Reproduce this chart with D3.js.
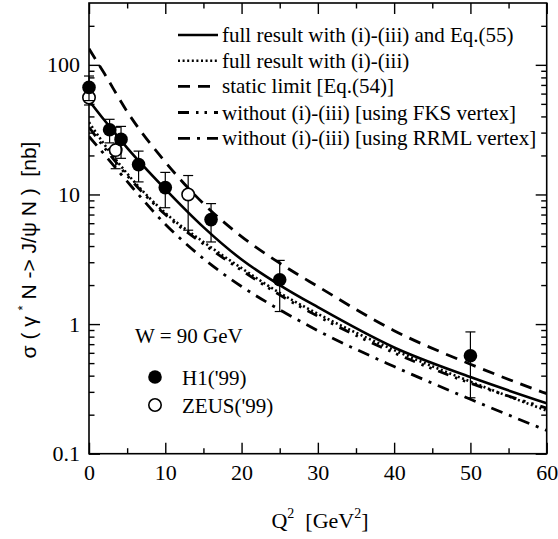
<!DOCTYPE html>
<html><head><meta charset="utf-8">
<script src="https://cdn.jsdelivr.net/npm/d3@7"></script>
<style>
body{margin:0;background:#fff}
text{font-family:"Liberation Serif","Times New Roman",serif;fill:#000}
</style>
</head><body><svg id="c" width="558" height="539"></svg>
<script>
// Theory curves: sigma(gamma* N -> J/psi N) in nb versus Q^2 in GeV^2, W = 90 GeV
const q2Grid      = [0, 2, 5, 10, 15, 20, 25, 30, 40, 50, 60];
const fullEq55    = [53, 37.5, 22.9, 11.0, 5.6, 3.15, 2.0, 1.35, 0.66, 0.39, 0.245];
const fullNoEq    = [36, 24.4, 14.5, 7.2, 4.3, 2.7, 1.74, 1.2, 0.63, 0.36, 0.215];
const staticLimit = [133, 86, 43.6, 17.8, 8.5, 4.73, 2.95, 1.95, 0.89, 0.49, 0.29];
const fksVertex   = [33, 23, 14, 7.0, 4.15, 2.6, 1.68, 1.15, 0.6, 0.35, 0.225];
const rrmlVertex  = [28, 20.4, 12.6, 5.9, 3.2, 1.95, 1.29, 0.89, 0.47, 0.263, 0.151];

// Measurements
const h1Q2    = [0, 2.7, 4.2, 6.5, 10, 16, 25, 50];
const h1Sigma = [67, 31.6, 26.6, 17, 11.3, 6.4, 2.2, 0.57];
const h1Lo    = [53, 25, 19, 12.5, 7.9, 4.3, 1.25, 0.27];
const h1Hi    = [82, 38, 33.5, 21.6, 14.8, 8.5, 3.1, 0.87];
const zeusQ2    = [0, 3.5, 13];
const zeusSigma = [56, 22, 10];
const zeusLo    = [49, 15.8, 5.3];
const zeusHi    = [63, 33, 14];

// Axis ticks
const xMajor = [0, 10, 20, 30, 40, 50, 60];
const xMinor = [5, 15, 25, 35, 45, 55];
const yMajor = [0.1, 1, 10, 100];
const yTickLabels = ["0.1", "1", "10", "100"];
const yMinor = [0.2,0.3,0.4,0.5,0.6,0.7,0.8,0.9, 2,3,4,5,6,7,8,9, 20,30,40,50,60,70,80,90, 200];

const seriesNames = [
  "full result with (i)-(iii) and Eq.(55)",
  "full result with (i)-(iii)",
  "static limit [Eq.(54)]",
  "without (i)-(iii) [using FKS vertex]",
  "without (i)-(iii) [using RRML vertex]"
];
const seriesValues = [fullEq55, fullNoEq, staticLimit, fksVertex, rrmlVertex];
const seriesDash = [null, "2,2.6", "12,8", "11,7,2.5,6,2.5,7", "12,7,3,7"];
const seriesWidth = [2.6, 2.6, 2.8, 2.8, 2.8];

const L = 89, R = 546.7, T = 3, B = 453.7;
const x = d3.scaleLinear().domain([0, 60]).range([L, R]);
const y = d3.scaleLog().domain([0.1, 300]).range([B, T]);

const svg = d3.select("#c");

// clip region for curves
svg.append("defs").append("clipPath").attr("id", "plot")
  .append("rect").attr("x", L).attr("y", T).attr("width", R - L).attr("height", B - T);

// axes with inward ticks on all four sides
function axisGroup(axis, tx, ty) {
  const g = svg.append("g").attr("transform", `translate(${tx},${ty})`).call(axis);
  g.select(".domain").remove();
  g.selectAll("line").attr("stroke", "#000").attr("stroke-width", 1.4);
  return g;
}
const fs = "22px";
const bx = axisGroup(d3.axisBottom(x).tickValues(xMajor).tickSize(-11).tickPadding(10).tickFormat(d3.format("d")), 0, B);
bx.selectAll("text").attr("font-size", fs).attr("font-family", "Liberation Serif").attr("dy", "0.75em");
axisGroup(d3.axisBottom(x).tickValues(xMinor).tickSize(-5.5).tickFormat(""), 0, B);
axisGroup(d3.axisTop(x).tickValues(xMajor).tickSize(-11).tickFormat(""), 0, T);
axisGroup(d3.axisTop(x).tickValues(xMinor).tickSize(-5.5).tickFormat(""), 0, T);

const ly = axisGroup(d3.axisLeft(y).tickValues(yMajor).tickSize(-11).tickPadding(9)
  .tickFormat((d, i) => yTickLabels[i]), L, 0);
ly.selectAll("text").attr("font-size", fs).attr("font-family", "Liberation Serif");
axisGroup(d3.axisLeft(y).tickValues(yMinor).tickSize(-5.5).tickFormat(""), L, 0);
axisGroup(d3.axisRight(y).tickValues(yMajor).tickSize(-11).tickFormat(""), R, 0);
axisGroup(d3.axisRight(y).tickValues(yMinor).tickSize(-5.5).tickFormat(""), R, 0);

// frame
svg.append("rect").attr("x", L).attr("y", T).attr("width", R - L).attr("height", B - T)
  .attr("fill", "none").attr("stroke", "#000").attr("stroke-width", 1.6);

// curves
const line = d3.line().x(d => x(d[0])).y(d => y(d[1])).curve(d3.curveMonotoneX);
const curves = svg.append("g").attr("clip-path", "url(#plot)");
seriesValues.forEach((vals, i) => {
  curves.append("path")
    .attr("d", line(q2Grid.map((q, k) => [q, vals[k]])))
    .attr("fill", "none").attr("stroke", "#000")
    .attr("stroke-width", seriesWidth[i])
    .attr("stroke-dasharray", seriesDash[i]);
});

// data points with error bars
function points(qs, vals, lo, hi, filled) {
  const g = svg.append("g");
  qs.forEach((q, i) => {
    const cx = x(q);
    g.append("line").attr("x1", cx).attr("x2", cx).attr("y1", y(lo[i])).attr("y2", y(hi[i]))
      .attr("stroke", "#000").attr("stroke-width", 1.2);
    [lo[i], hi[i]].forEach(v => g.append("line").attr("x1", cx - 5).attr("x2", cx + 5)
      .attr("y1", y(v)).attr("y2", y(v)).attr("stroke", "#000").attr("stroke-width", 1.2));
  });
  qs.forEach((q, i) => {
    g.append("circle").attr("cx", x(q)).attr("cy", y(vals[i])).attr("r", filled ? 6.8 : 6.2)
      .attr("fill", filled ? "#000" : "#fff").attr("stroke", "#000").attr("stroke-width", filled ? 0 : 1.6);
  });
}
points(zeusQ2, zeusSigma, zeusLo, zeusHi, false);
points(h1Q2, h1Sigma, h1Lo, h1Hi, true);

// curve legend
const lg = svg.append("g");
const rowY = [35, 60.7, 86.3, 112.5, 138.3];
seriesNames.forEach((name, i) => {
  lg.append("line").attr("x1", 178).attr("x2", 218).attr("y1", rowY[i]).attr("y2", rowY[i])
    .attr("stroke", "#000").attr("stroke-width", seriesWidth[i]).attr("stroke-dasharray", seriesDash[i]);
  lg.append("text").attr("x", 222).attr("y", rowY[i] + 7).attr("font-size", "21px").text(name);
});

// annotation and marker legend
svg.append("text").attr("x", 135).attr("y", 343).attr("font-size", "21px").text("W = 90 GeV");
svg.append("circle").attr("cx", 155).attr("cy", 377).attr("r", 6.8).attr("fill", "#000");
svg.append("text").attr("x", 182).attr("y", 385).attr("font-size", "21px").text("H1('99)");
svg.append("circle").attr("cx", 155).attr("cy", 405).attr("r", 6.2).attr("fill", "#fff").attr("stroke", "#000").attr("stroke-width", 1.6);
svg.append("text").attr("x", 182).attr("y", 413).attr("font-size", "21px").text("ZEUS('99)");

// axis titles
const xt = svg.append("text").attr("x", 320).attr("y", 528).attr("text-anchor", "middle").attr("font-size", "22px");
xt.append("tspan").text("Q");
xt.append("tspan").attr("dy", -10).attr("font-size", "14px").text("2");
xt.append("tspan").attr("dy", 10).text("  [GeV");
xt.append("tspan").attr("dy", -10).attr("font-size", "14px").text("2");
xt.append("tspan").attr("dy", 10).text("]");
xt.attr("xml:space", "preserve");

const yt = svg.append("text").attr("transform", "translate(36,250) rotate(-90)")
  .attr("text-anchor", "middle").attr("font-size", "21px")
  .style("font-family", "'Liberation Sans', Arial, sans-serif").attr("xml:space", "preserve");
yt.append("tspan").text("σ ( γ ");
yt.append("tspan").attr("dy", -9).attr("font-size", "13px").text("*");
yt.append("tspan").attr("dy", 9).text(" N -> J/ψ N )  [nb]");
</script>
</body></html>
